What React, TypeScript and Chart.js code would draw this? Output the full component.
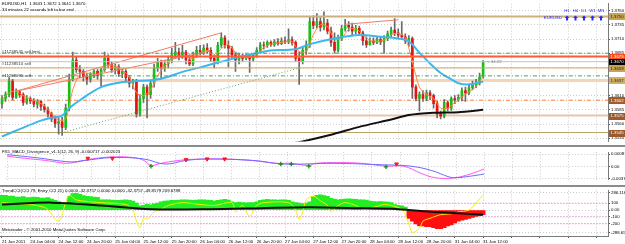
import React, { useEffect, useRef } from 'react';
import { Chart, registerables } from 'chart.js';

Chart.register(...registerables);

const FONT = '"Liberation Sans", Arial, sans-serif';
const FS = 4.3;
const X_MIN = -0.565;
const X_MAX = 171.3;
const GRID = '#cdcdcd';

// ---------- time axis ----------
const TIME_LABELS = ['21 Jan 2011', '24 Jan 04:00', '24 Jan 12:00', '24 Jan 20:00', '25 Jan 04:00', '25 Jan 12:00',
  '25 Jan 20:00', '26 Jan 04:00', '26 Jan 12:00', '26 Jan 20:00', '27 Jan 04:00', '27 Jan 12:00', '27 Jan 20:00',
  '28 Jan 04:00', '28 Jan 12:00', '28 Jan 20:00', '31 Jan 04:00', '31 Jan 12:00'];
const TIME_GRID_BARS = [0, 8, 16, 24, 32, 40, 48, 56, 64, 72, 80, 88, 96, 104, 112, 120, 128, 136, 144, 152, 160, 168];

// ---------- EURUSD H1 candles ----------
const OPEN = [1.3596, 1.3605, 1.3612, 1.3636, 1.3607, 1.3617, 1.3612, 1.3598, 1.3605, 1.3601,
  1.3595, 1.3600, 1.3591, 1.3586, 1.3578, 1.3569, 1.3561, 1.3564, 1.3554, 1.3588,
  1.3639, 1.3673, 1.3656, 1.3653, 1.3644, 1.3639, 1.3648, 1.3653, 1.3646, 1.3656,
  1.3676, 1.3665, 1.3656, 1.3661, 1.3649, 1.3653, 1.3642, 1.3632, 1.3636, 1.3578,
  1.3605, 1.3625, 1.3612, 1.3632, 1.3659, 1.3670, 1.3659, 1.3666, 1.3673, 1.3682,
  1.3687, 1.3680, 1.3687, 1.3673, 1.3666, 1.3682, 1.3690, 1.3687, 1.3694, 1.3690,
  1.3676, 1.3670, 1.3699, 1.3712, 1.3699, 1.3694, 1.3682, 1.3673, 1.3680, 1.3676,
  1.3680, 1.3675, 1.3682, 1.3690, 1.3700, 1.3699, 1.3704, 1.3700, 1.3705, 1.3702,
  1.3707, 1.3705, 1.3709, 1.3704, 1.3676, 1.3670, 1.3690, 1.3700, 1.3741, 1.3734,
  1.3741, 1.3731, 1.3738, 1.3724, 1.3704, 1.3690, 1.3711, 1.3728, 1.3734, 1.3731,
  1.3724, 1.3729, 1.3721, 1.3707, 1.3700, 1.3707, 1.3704, 1.3709, 1.3705, 1.3711,
  1.3719, 1.3726, 1.3721, 1.3717, 1.3714, 1.3707, 1.3711, 1.3625, 1.3605, 1.3612,
  1.3605, 1.3615, 1.3610, 1.3596, 1.3578, 1.3574, 1.3598, 1.3588, 1.3605, 1.3603,
  1.3607, 1.3619, 1.3615, 1.3624, 1.3629, 1.3632, 1.3643];
const HIGH = [1.3610, 1.3617, 1.3642, 1.3639, 1.3622, 1.3620, 1.3615, 1.3610, 1.3608, 1.3605,
  1.3603, 1.3601, 1.3595, 1.3590, 1.3581, 1.3574, 1.3571, 1.3572, 1.3595, 1.3648,
  1.3687, 1.3678, 1.3663,
  1.3656, 1.3649, 1.3651, 1.3656, 1.3656, 1.3659, 1.3687, 1.3682, 1.3670, 1.3666,
  1.3665, 1.3658, 1.3656, 1.3646, 1.3639, 1.3639, 1.3612, 1.3630, 1.3629, 1.3636,
  1.3666, 1.3676, 1.3673, 1.3673, 1.3680, 1.3694, 1.3704, 1.3694, 1.3699, 1.3690,
  1.3682, 1.3687, 1.3697, 1.3699, 1.3700, 1.3702, 1.3695, 1.3682, 1.3704, 1.3721,
  1.3716, 1.3707, 1.3697, 1.3687, 1.3685, 1.3683, 1.3683, 1.3683, 1.3685, 1.3695,
  1.3704, 1.3705, 1.3707, 1.3707, 1.3709, 1.3711, 1.3712, 1.3714, 1.3728, 1.3714,
  1.3707, 1.3687, 1.3697, 1.3707, 1.3750, 1.3751, 1.3755, 1.3748, 1.3758, 1.3745,
  1.3731, 1.3721, 1.3717, 1.3734, 1.3745, 1.3741, 1.3738, 1.3734, 1.3733, 1.3724,
  1.3714, 1.3712, 1.3712, 1.3714, 1.3714, 1.3716, 1.3724, 1.3731, 1.3746, 1.3728,
  1.3741, 1.3719, 1.3716, 1.3714, 1.3629, 1.3617, 1.3619, 1.3620, 1.3619, 1.3613,
  1.3600, 1.3583, 1.3603, 1.3601, 1.3608, 1.3610, 1.3612, 1.3624, 1.3625, 1.3629,
  1.3636, 1.3639, 1.3650, 1.3672];
const LOW = [1.3588, 1.3600, 1.3608, 1.3603, 1.3605, 1.3607, 1.3593, 1.3595, 1.3596, 1.3590,
  1.3588, 1.3584, 1.3581, 1.3572, 1.3564, 1.3554, 1.3542, 1.3540, 1.3550, 1.3583,
  1.3636, 1.3651, 1.3642,
  1.3636, 1.3630, 1.3634, 1.3642, 1.3639, 1.3627, 1.3653, 1.3659, 1.3651, 1.3648,
  1.3644, 1.3642, 1.3636, 1.3625, 1.3622, 1.3572, 1.3574, 1.3598, 1.3571, 1.3605,
  1.3625, 1.3653, 1.3639, 1.3653, 1.3659, 1.3668, 1.3676, 1.3673, 1.3676, 1.3666,
  1.3663, 1.3663, 1.3678, 1.3682, 1.3683, 1.3685, 1.3670, 1.3659, 1.3666, 1.3695,
  1.3694, 1.3661, 1.3676, 1.3653, 1.3666, 1.3670, 1.3673, 1.3651, 1.3671, 1.3678,
  1.3687, 1.3692, 1.3695, 1.3697, 1.3697, 1.3699, 1.3700, 1.3702, 1.3702, 1.3699,
  1.3670, 1.3630, 1.3666, 1.3683, 1.3695, 1.3728, 1.3729, 1.3724, 1.3726, 1.3719,
  1.3697, 1.3685, 1.3687, 1.3707, 1.3724, 1.3724, 1.3717, 1.3719, 1.3716, 1.3699,
  1.3695, 1.3699, 1.3700, 1.3702, 1.3700, 1.3685, 1.3707, 1.3714, 1.3716, 1.3712,
  1.3709, 1.3702, 1.3697, 1.3605, 1.3601, 1.3583, 1.3600, 1.3601, 1.3603, 1.3588,
  1.3571, 1.3569, 1.3571, 1.3583, 1.3584, 1.3596, 1.3600, 1.3601, 1.3600, 1.3612,
  1.3620, 1.3624, 1.3629, 1.3641];
const CLOSE = [1.3605, 1.3612, 1.3636, 1.3607, 1.3617, 1.3612, 1.3598, 1.3605, 1.3601, 1.3595,
  1.3600, 1.3591, 1.3586, 1.3578, 1.3569, 1.3561, 1.3564, 1.3554, 1.3588, 1.3639,
  1.3673, 1.3656, 1.3653, 1.3644, 1.3639, 1.3648, 1.3653, 1.3646, 1.3656, 1.3676,
  1.3665, 1.3656, 1.3661, 1.3649, 1.3653, 1.3642, 1.3632, 1.3636, 1.3578, 1.3605,
  1.3625, 1.3612, 1.3632, 1.3659, 1.3670, 1.3659, 1.3666, 1.3673, 1.3682, 1.3687,
  1.3680, 1.3687, 1.3673, 1.3666, 1.3682, 1.3690, 1.3687, 1.3694, 1.3690, 1.3676,
  1.3670, 1.3699, 1.3712, 1.3699, 1.3694, 1.3682, 1.3673, 1.3680, 1.3676, 1.3680,
  1.3675, 1.3682, 1.3690, 1.3700, 1.3699, 1.3704, 1.3700, 1.3705, 1.3702, 1.3707,
  1.3705, 1.3709, 1.3704, 1.3676, 1.3670, 1.3690, 1.3700, 1.3741, 1.3734, 1.3741,
  1.3731, 1.3738, 1.3724, 1.3704, 1.3690, 1.3711, 1.3728, 1.3734, 1.3731, 1.3724,
  1.3729, 1.3721, 1.3707, 1.3700, 1.3707, 1.3704, 1.3709, 1.3705, 1.3711, 1.3719,
  1.3726, 1.3721, 1.3717, 1.3714, 1.3707, 1.3711, 1.3625, 1.3605, 1.3612, 1.3605,
  1.3615, 1.3610, 1.3596, 1.3578, 1.3574, 1.3598, 1.3588, 1.3605, 1.3603, 1.3607,
  1.3619, 1.3615, 1.3624, 1.3629, 1.3632, 1.3643, 1.3670];
const PRICE_TICKS = [1.3535, 1.3560, 1.3585, 1.3610, 1.3635, 1.3660, 1.3685, 1.3710, 1.3735, 1.3760];

// ---------- moving averages ----------
const FAST_MA_BARS = [0, 2, 4, 6, 8, 10, 12, 14, 16, 18, 20, 22, 24, 26, 28, 30, 32, 34, 36, 38, 40, 42, 44, 46, 48,
  50, 52, 54, 56, 58, 60, 62, 64, 66, 68, 70, 72, 74, 76, 78, 80, 82, 84, 86, 88, 90, 92, 94, 96, 98, 100, 102, 104,
  106, 108, 110, 112, 114, 116, 118, 120, 122, 124, 126, 128, 130, 132, 134, 136];
const FAST_MA = [1.3603, 1.3615, 1.3618, 1.3610, 1.3604, 1.3599, 1.3592, 1.3578, 1.3567, 1.3569, 1.3620, 1.3648,
  1.3650, 1.3648, 1.3650, 1.3662, 1.3662, 1.3655, 1.3643, 1.3615, 1.3610, 1.3620, 1.3645, 1.3662, 1.3673, 1.3680,
  1.3680, 1.3675, 1.3684, 1.3690, 1.3680, 1.3693, 1.3700, 1.3686, 1.3678, 1.3678, 1.3682, 1.3695, 1.3701, 1.3703,
  1.3705, 1.3706, 1.3688, 1.3688, 1.3718, 1.3735, 1.3732, 1.3710, 1.3712, 1.3727, 1.3728, 1.3718, 1.3708, 1.3706,
  1.3708, 1.3717, 1.3720, 1.3712, 1.3670, 1.3625, 1.3612, 1.3605, 1.3588, 1.3588, 1.3598, 1.3608, 1.3617, 1.3626,
  1.3645];
const SLOW_MA_BARS = [0, 5, 11, 14, 17, 19, 22, 28, 33, 37, 45, 51, 56, 65, 75, 83, 87, 94, 101, 107, 112, 115, 118,
  121, 124, 127, 129, 132, 136];
const SLOW_MA = [1.3538, 1.3551, 1.3566, 1.3571, 1.3575, 1.3588, 1.3602, 1.3625, 1.3633, 1.3635, 1.3640, 1.3652,
  1.3660, 1.3675, 1.3689, 1.3692, 1.3701, 1.3711, 1.3717, 1.3714, 1.3711, 1.3706, 1.3686, 1.3667, 1.3650, 1.3639,
  1.3632, 1.3630, 1.3635];
const LONG_MA_BARS = [80, 84, 93, 101, 110, 115, 122, 129, 136];
const LONG_MA = [1.3524, 1.3528, 1.3541, 1.3555, 1.3568, 1.3576, 1.3580, 1.3581, 1.3585];

// ---------- objects ----------
const LEVELS = [1.3750, 1.3685, 1.3679, 1.3670, 1.3659, 1.3645, 1.3637, 1.3602, 1.3575, 1.3545];
const LEVEL_STYLE = [
  { c: '#cdb07a', w: 2, d: [] }, { c: '#5aa05a', w: 1, d: [4, 2, 1, 2] }, { c: '#ff5a3a', w: 2, d: [] },
  { c: '#c4c4c4', w: 1, d: [] }, { c: '#c9a76a', w: 1, d: [] }, { c: '#5aa05a', w: 1, d: [4, 2, 1, 2] },
  { c: '#f6d4b8', w: 3, d: [] }, { c: '#ff7a30', w: 1, d: [4, 2, 1, 2] }, { c: '#e9c4ac', w: 2, d: [] },
  { c: '#b9a466', w: 1, d: [] }];
const BOX_LEVELS = [1.3750, 1.3679, 1.3670, 1.3659, 1.3637, 1.3602, 1.3575, 1.3545];
const BOX_STYLE = [['#c8a452', '#222'], ['#ff4a1a', '#fff'], ['#000', '#fff'], ['#c8a452', '#222'],
  ['#d0b068', '#222'], ['#a55a28', '#fff'], ['#9c5a2e', '#fff'], ['#9c5a2e', '#fff']];
const ORDER_LABELS = ['#11238545 sell limit', '#11238510 sell', '#11238091 sell'];
const ORDER_LEVELS = [1.3679, 1.3659, 1.3637];
const TREND_RED_A_BARS = [4, 62];
const TREND_RED_A = [1.3618, 1.3721];
const TREND_RED_B_BARS = [4, 59];
const TREND_RED_B = [1.3618, 1.3689];
const TREND_TOP_BARS = [97, 112];
const TREND_TOP = [1.3736, 1.3744];
const TREND_GREEN_BARS = [16, 84];
const TREND_GREEN = [1.3543, 1.3659];
const TF_LABELS = ['H1', 'H4', 'D1', 'W1', 'MN'];

// ---------- MACD divergence ----------
const MACD_MAIN_BARS = [0, 8, 18, 22, 30, 39, 45, 51, 57, 70, 79, 93, 107, 115, 121, 126, 128, 132, 136];
const MACD_MAIN = [0.00068, 0.00015, -0.00065, -0.00039, 0.00015, -0.00012, -0.00105, -0.00039, -0.00012,
  -0.00039, -0.00105, -0.00092, -0.00119, -0.00145, -0.00225, -0.00345, -0.00358, -0.00331, -0.00291];
const MACD_SIGNAL_BARS = [0, 5, 11, 15, 17, 20, 24, 30, 36, 39, 41, 43, 46, 51, 57, 62, 70, 77, 81, 86, 88, 94, 101,
  108, 113, 118, 121, 124, 128, 132, 136];
const MACD_SIGNAL = [0.00041, 0.00001, -0.00039, -0.00079, -0.00092, -0.00065, -0.00012, 0.00028, 0.00015,
  -0.00039, -0.00132, -0.00105, -0.00065, -0.00025, -0.00012, -0.00012, -0.00039, -0.00092, -0.00092, -0.00132,
  -0.00092, -0.00079, -0.00092, -0.00145, -0.00145, -0.00278, -0.00345, -0.00371, -0.00358, -0.00291, -0.00198];
const MACD_SELL_BARS = [23, 30, 51, 57, 62, 111];
const MACD_SELL = [0.00001, 0.00001, -0.00025, -0.00012, -0.00012, -0.00105];
const MACD_BUY_BARS = [41, 78, 81, 86, 108];
const MACD_BUY = [-0.00145, -0.00105, -0.00105, -0.00145, -0.00158];
const MACD_TICKS = [0.00081, -0.00155, -0.00371];
const MACD_TICK_TEXT = ['0.00081', '0.00', '-0.00371'];

// ---------- Trend CCI ----------
const CCI_TREND = [216, 216, 203, 203, 190, 190, 195, 180, 180, 190, 185, 175, 175, 180, 160, 140, 125, 80, 100,
  200, 240, 245, 230, 210, 200, 195, 190, 185, 150, 150, 148, 145, 140, 140, 145, 150, 140, 130, 100, 60, 70, 85,
  75, 90, 100, 120, 130, 135, 140, 140, 145, 148, 150, 145, 140, 145, 150, 150, 145, 140, 130, 140, 150, 155, 145,
  120, 110, 115, 110, 105, 108, 110, 120, 140, 150, 155, 150, 148, 145, 150, 148, 140, 120, 110, 100, 90, 100, 120,
  200, 215, 220, 210, 200, 170, 160, 150, 155, 160, 165, 160, 155, 150, 150, 145, 130, 125, 120, 125, 120, 115, 110,
  80, 70, 60, 45, -121, -162, -202, -230, -230, -243, -243, -256, -270, -270, -256, -230, -216, -189, -162, -148,
  -135, -121, -108, -94, -81, -68];
const CCI_ENTRY_BARS = [0, 12, 16, 18, 19, 21, 28, 35, 37, 38, 39, 40, 41, 43, 45, 47, 51, 56, 60, 65, 66, 68, 70, 72,
  74, 81, 83, 84, 85, 86, 88, 90, 92, 93, 95, 97, 100, 102, 105, 108, 110, 113, 114, 115, 116, 118, 119, 121, 124,
  127, 129, 132, 134, 136];
const CCI_ENTRY = [108, 40, -162, 108, 216, 148, 108, 81, 0, -162, -256, -121, -135, -27, 13, 67, 108, 81, 67, 108,
  -27, 67, -94, 67, 108, 108, 0, -135, -27, 148, 202, 135, 67, -27, 67, 108, 67, 13, 40, 81, 67, 13, -67, -202, -324,
  -270, -162, -121, -67, -54, -27, 0, 108, 216];
const CCI_SMOOTH_BARS = [0, 14, 28, 42, 59, 73, 87, 101, 112, 122, 136];
const CCI_SMOOTH = [81, 108, 67, 13, 13, 27, 40, 27, 13, -27, -67];
const CCI_LEVELS = [100, -100, -200];
const CCI_TICKS = [250, 100, 0, -100, -200, -330];
const CCI_TICK_TEXT = ['286.1164', '100', '0.00', '-100', '-200', '-288.6548'];

// ---------- helpers ----------
const BAR_IDX = CLOSE.map((_, i) => i);
const pts = (bars: number[], vals: number[]) => bars.map((b, i) => ({ x: b, y: vals[i] }));
const hline = (v: number) => [{ x: X_MIN - 2, y: v }, { x: X_MAX + 2, y: v }];
const font = (s = FS) => `${s}px ${FONT}`;

function xAxis(showLabels: boolean) {
  return {
    type: 'linear', position: 'bottom', min: X_MIN, max: X_MAX, offset: false,
    afterBuildTicks: (s: any) => { s.ticks = TIME_GRID_BARS.map((v) => ({ value: v })); },
    afterFit: (s: any) => { s.height = showLabels ? 8 : 0; },
    ticks: {
      display: showLabels, autoSkip: false, maxRotation: 0, minRotation: 0, align: 'start',
      font: { size: FS, family: FONT }, color: '#000', padding: 1,
      callback: (_v: any, i: number) => TIME_LABELS[i] ?? '',
    },
    grid: { offset: false, color: GRID, lineWidth: 1, drawTicks: showLabels, tickLength: 2, tickColor: '#555' },
    border: { display: false, dash: [1, 2] },
  };
}

function yAxis(min: number, max: number, ticks: number[], fmt: (v: number, i: number) => string) {
  return {
    type: 'linear', position: 'right', min, max,
    afterBuildTicks: (s: any) => { s.ticks = ticks.map((v) => ({ value: v })); },
    afterFit: (s: any) => { s.width = 17; },
    ticks: { autoSkip: false, font: { size: FS, family: FONT }, color: '#000', padding: 1, callback: (v: number, i: number) => fmt(v, i) },
    grid: { color: GRID, lineWidth: 1, drawTicks: true, tickLength: 2, tickColor: '#555' },
    border: { display: true, color: '#7a7a7a', width: 1, dash: [1, 2] },
  };
}

const line = (data: any[], color: string, width: number, extra: any = {}) => ({
  type: 'line', data, borderColor: color, borderWidth: width, pointRadius: 0, fill: false, tension: 0, order: 1, ...extra,
});

const baseOptions = {
  responsive: false, animation: false, maintainAspectRatio: false,
  layout: { padding: 0 },
  plugins: { legend: { display: false }, tooltip: { enabled: false } },
  events: [],
};

const mainOverlay = {
  id: 'mainOverlay',
  afterDraw(chart: any) {
    const { ctx, chartArea } = chart;
    const y = chart.scales.y;
    const x = chart.scales.x;
    ctx.save();
    ctx.textBaseline = 'middle';
    ctx.font = font();
    ctx.fillStyle = '#000';
    ctx.textAlign = 'left';
    const last = CLOSE.length - 1;
    ctx.fillText(`EURUSD,H1  ${OPEN[last].toFixed(4)} ${HIGH[last].toFixed(4)} ${LOW[last].toFixed(4)} ${CLOSE[last].toFixed(4)}`, 2, 3.5);
    ctx.fillText('34 minutes 22 seconds left to bar end', 2, 10);
    ctx.fillStyle = '#333';
    ORDER_LABELS.forEach((t, i) => ctx.fillText(t, 2, y.getPixelForValue(ORDER_LEVELS[i]) - 4.5));
    ctx.fillStyle = '#808080';
    ctx.fillText('< 34:22', x.getPixelForValue(last) + 4, y.getPixelForValue(CLOSE[last]));
    ctx.fillStyle = '#2a2aff';
    ctx.textAlign = 'center';
    const tfX = [567, 575.5, 584, 592.5, 601];
    TF_LABELS.forEach((t, i) => {
      ctx.fillText(t, tfX[i], 11);
      const cx = tfX[i];
      ctx.beginPath();
      ctx.moveTo(cx, 15.5); ctx.lineTo(cx + 2.5, 18); ctx.lineTo(cx + 1, 18); ctx.lineTo(cx + 1, 20.5);
      ctx.lineTo(cx - 1, 20.5); ctx.lineTo(cx - 1, 18); ctx.lineTo(cx - 2.5, 18); ctx.closePath();
      ctx.fill();
    });
    ctx.textAlign = 'right';
    ctx.fillText('EURUSD', 562, 17.5);
    ctx.textAlign = 'left';
    BOX_LEVELS.forEach((v, i) => {
      const py = y.getPixelForValue(v);
      ctx.fillStyle = BOX_STYLE[i][0];
      ctx.fillRect(chartArea.right + 1, Math.round(py) - 3, 20, 7);
      ctx.fillStyle = BOX_STYLE[i][1];
      ctx.fillText(v.toFixed(4), chartArea.right + 2.5, py + 0.5);
    });
    ctx.restore();
  },
};

const labelPlugin = (id: string, texts: { t: string; x: number; y: number; c: string }[]) => ({
  id,
  afterDraw(chart: any) {
    const { ctx } = chart;
    ctx.save();
    ctx.font = font();
    ctx.textBaseline = 'middle';
    ctx.textAlign = 'left';
    texts.forEach((o) => { ctx.fillStyle = o.c; ctx.fillText(o.t, o.x, o.y); });
    ctx.restore();
  },
});

function mainConfig(): any {
  const levelSets = LEVELS.map((v, i) => line(hline(v), LEVEL_STYLE[i].c, LEVEL_STYLE[i].w, { borderDash: LEVEL_STYLE[i].d, order: 0 }));
  return {
    type: 'bar',
    data: {
      datasets: [
        ...levelSets.slice(6).map((d) => ({ ...d, order: 12 })),
        {
          type: 'bar', data: BAR_IDX.map((i) => ({ x: i, y: [LOW[i], HIGH[i]] })),
          backgroundColor: '#6a6a6a', barThickness: 1, grouped: false, order: 10,
        },
        {
          type: 'bar', data: BAR_IDX.map((i) => ({ x: i, y: [OPEN[i], CLOSE[i]] })),
          backgroundColor: BAR_IDX.map((i) => (CLOSE[i] >= OPEN[i] ? '#16c016' : '#e81212')),
          barThickness: 2, grouped: false, order: 9,
        },
        line(pts(TREND_GREEN_BARS, TREND_GREEN), '#5aa85a', 1, { borderDash: [1, 2] }),
        line(pts(TREND_RED_A_BARS, TREND_RED_A), '#f27a66', 1),
        line(pts(TREND_RED_B_BARS, TREND_RED_B), '#f27a66', 1),
        line(pts(TREND_TOP_BARS, TREND_TOP), '#f27a66', 1),
        line(pts(LONG_MA_BARS, LONG_MA), '#111', 2, { tension: 0.2 }),
        line(pts(SLOW_MA_BARS, SLOW_MA), '#3cb8ee', 2, { tension: 0.35 }),
        line(pts(FAST_MA_BARS, FAST_MA), '#ff8a3a', 1, { tension: 0.3 }),
        ...levelSets.slice(0, 6),
      ],
    },
    options: {
      ...baseOptions,
      scales: {
        x: xAxis(false),
        y: yAxis(1.35293, 1.37726, PRICE_TICKS, (v) => v.toFixed(4)),
      },
    },
    plugins: [mainOverlay],
  };
}

function macdConfig(): any {
  return {
    type: 'line',
    data: {
      datasets: [
        line(pts(MACD_MAIN_BARS, MACD_MAIN), '#6a6aff', 1, { tension: 0.4 }),
        line(pts(MACD_SIGNAL_BARS, MACD_SIGNAL), '#ff55ee', 1, { tension: 0.4 }),
        {
          type: 'line', data: pts(MACD_SELL_BARS, MACD_SELL), showLine: false, pointStyle: 'triangle', rotation: 180,
          pointRadius: 2.2, pointBackgroundColor: '#ff1a1a', pointBorderColor: '#ff1a1a', order: 0,
        },
        {
          type: 'line', data: pts(MACD_BUY_BARS, MACD_BUY), showLine: false, pointStyle: 'cross',
          pointRadius: 2.2, pointBorderColor: '#138a13', pointBorderWidth: 1.2, order: 0,
        },
      ],
    },
    options: {
      ...baseOptions,
      scales: {
        x: xAxis(false),
        y: yAxis(-0.00398, 0.001147, MACD_TICKS, (_v, i) => MACD_TICK_TEXT[i]),
      },
    },
    plugins: [labelPlugin('macdLabel', [{ t: 'FX5_MACD_Divergence_v1.1(12, 26, 9) -0.000717 -0.002023', x: 2, y: 5, c: '#000' }])],
  };
}

function cciConfig(): any {
  return {
    type: 'bar',
    data: {
      datasets: [
        ...CCI_LEVELS.map((v) => line(hline(v), '#ff77dd', 1, { borderDash: [1, 2], order: 12 })),
        {
          type: 'bar', data: BAR_IDX.map((i) => ({ x: i, y: CCI_TREND[i] })),
          backgroundColor: BAR_IDX.map((i) => (CCI_TREND[i] >= 0 ? '#22ee22' : '#ff1010')),
          barThickness: 4, grouped: false, order: 10,
        },
        line(pts(CCI_SMOOTH_BARS, CCI_SMOOTH), '#111', 2, { tension: 0.3 }),
        line(pts(CCI_ENTRY_BARS, CCI_ENTRY), '#f0f000', 1, { tension: 0.3 }),
      ],
    },
    options: {
      ...baseOptions,
      scales: {
        x: xAxis(true),
        y: yAxis(-378, 283.5, CCI_TICKS, (_v, i) => CCI_TICK_TEXT[i]),
      },
    },
    plugins: [labelPlugin('cciLabel', [
      { t: 'TrendCCI(CCI 79, Entry CCI 21) 0.0000 -32.3757 0.0000 0.0000 -32.3757 -49.8579 209.6788', x: 2, y: 4, c: '#000' },
      { t: 'Metatrader - \u00a9 2001-2010 MetaQuotes Software Corp.', x: 2, y: 42.5, c: '#000' },
    ])],
  };
}

export default function App() {
  const mainRef = useRef<HTMLCanvasElement>(null);
  const macdRef = useRef<HTMLCanvasElement>(null);
  const cciRef = useRef<HTMLCanvasElement>(null);

  useEffect(() => {
    document.body.style.margin = '0';
    const charts = [
      new Chart(mainRef.current as HTMLCanvasElement, mainConfig()),
      new Chart(macdRef.current as HTMLCanvasElement, macdConfig()),
      new Chart(cciRef.current as HTMLCanvasElement, cciConfig()),
    ];
    return () => charts.forEach((c) => c.destroy());
  }, []);

  const abs = (top: number, height: number): React.CSSProperties => ({ position: 'absolute', left: 0, top, width: 625, height });
  return (
    <div style={{ position: 'relative', width: 625, height: 244, background: '#fff', overflow: 'hidden' }}>
      <canvas ref={mainRef} width={625} height={145} style={abs(0, 145)} />
      <div style={{ ...abs(145, 2), background: '#8c8c8c' }} />
      <canvas ref={macdRef} width={625} height={38} style={abs(147, 38)} />
      <div style={{ ...abs(185, 2), background: '#8c8c8c' }} />
      <canvas ref={cciRef} width={625} height={57} style={abs(187, 57)} />
      <div style={{ position: 'absolute', left: 0, top: 236, width: 609, height: 1, background: '#7a7a7a' }} />
    </div>
  );
}
